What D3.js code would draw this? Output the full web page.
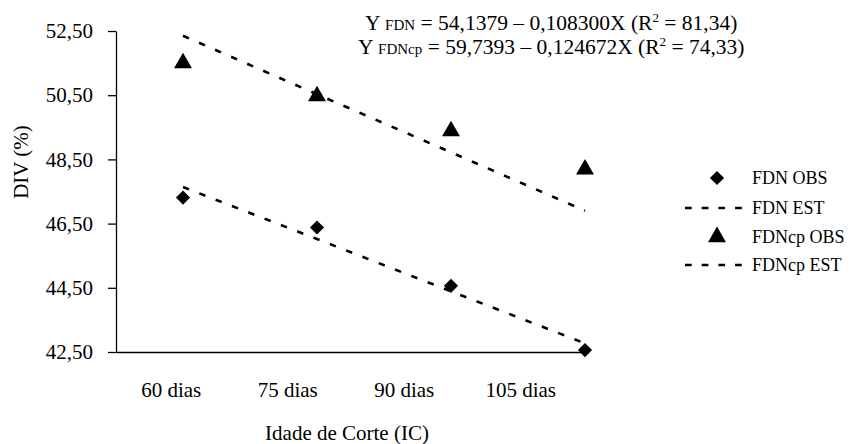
<!DOCTYPE html>
<html>
<head>
<meta charset="utf-8">
<script src="https://cdn.jsdelivr.net/npm/d3@7/dist/d3.min.js"></script>
<style>
  html, body { margin: 0; padding: 0; background: #fff; }
  svg { display: block; font-family: "Liberation Serif", "Times New Roman", serif; }
</style>
</head>
<body>
<svg id="chart" width="849" height="444"></svg>
<script>
// Cutting ages (days) and their axis labels
const days = [60, 75, 90, 105];
const dayLabels = ["60 dias", "75 dias", "90 dias", "105 dias"];

// Observed and estimated in vitro digestibility (%)
const fdnObs = [47.31, 46.38, 44.56, 42.56];
const fdnEst = [47.64, 46.02, 44.39, 42.77];
const fdncpObs = [51.50, 50.47, 49.38, 48.19];
const fdncpEst = [52.35, 50.53, 48.72, 46.90];

// Y axis ticks
const yTicks = [42.5, 44.5, 46.5, 48.5, 50.5, 52.5];

const serif = "'Liberation Serif', 'Times New Roman', serif";
const svg = d3.select("#chart");
const fmt = v => v.toFixed(2).replace(".", ",");

const axisLeft = 116, axisRight = 582, axisTop = 31, axisBottom = 352;

const y = d3.scaleLinear().domain([42.5, 52.5]).range([axisBottom, axisTop]);
const xBand = d3.scaleBand().domain(dayLabels).range([axisLeft, axisRight]);
const x = d3.scaleLinear().domain([60, 105]).range([183, 585]);

// Y axis
const yAxis = svg.append("g")
  .attr("transform", `translate(${axisLeft},0)`)
  .attr("font-family", serif)
  .call(d3.axisLeft(y).tickValues(yTicks).tickFormat(fmt).tickSize(8).tickSizeOuter(0));
yAxis.attr("font-family", serif);
yAxis.select(".domain").attr("stroke", "#000").attr("stroke-width", 1.3);
yAxis.selectAll(".tick line").attr("stroke", "#000").attr("stroke-width", 1.3);
yAxis.selectAll(".tick text")
  .attr("x", -23)
  .attr("font-size", 21)
  .attr("font-family", serif)
  .attr("fill", "#000");

// X axis (category labels only)
const xAxis = svg.append("g")
  .attr("transform", `translate(0,${axisBottom})`)
  .call(d3.axisBottom(xBand).tickSize(0).tickSizeOuter(0));
xAxis.attr("font-family", serif);
xAxis.select(".domain").attr("stroke", "#000").attr("stroke-width", 1.3);
xAxis.selectAll(".tick text")
  .attr("y", 30)
  .attr("dx", -3)
  .attr("font-size", 21)
  .attr("font-family", serif)
  .attr("fill", "#000");

// Axis titles
svg.append("text")
  .attr("transform", "translate(28,162) rotate(-90)")
  .attr("text-anchor", "middle")
  .attr("font-family", serif)
  .attr("font-size", 21)
  .text("DIV (%)");

svg.append("text")
  .attr("x", 347).attr("y", 440)
  .attr("text-anchor", "middle")
  .attr("font-family", serif)
  .attr("font-size", 21)
  .text("Idade de Corte (IC)");

// Estimated lines
const line = d3.line().x((d, i) => x(days[i])).y(d => y(d));
[fdnEst, fdncpEst].forEach(s => {
  svg.append("path")
    .attr("d", line(s))
    .attr("fill", "none")
    .attr("stroke", "#000")
    .attr("stroke-width", 2.6)
    .attr("stroke-dasharray", "6.5,11");
});

// Markers
const diamond = d3.symbol().type(d3.symbolSquare).size(100);
const triangle = d3.symbol().type(d3.symbolTriangle).size(140);

svg.append("g").selectAll("path")
  .data(fdnObs).join("path")
  .attr("d", diamond)
  .attr("transform", (d, i) => `translate(${x(days[i])},${y(d)}) rotate(45)`)
  .attr("fill", "#000");

svg.append("g").selectAll("path")
  .data(fdncpObs).join("path")
  .attr("d", triangle)
  .attr("transform", (d, i) => `translate(${x(days[i])},${y(d)})`)
  .attr("fill", "#000");

// Regression equations
function equation(xPos, yPos, sub, rest, r2) {
  const t = svg.append("text").attr("x", xPos).attr("y", yPos)
    .attr("font-family", serif).attr("font-size", 21.5);
  t.append("tspan").text("Y ");
  t.append("tspan").attr("font-size", 15).text(sub);
  t.append("tspan").text(" = " + rest + " (R");
  t.append("tspan").attr("font-size", 13).attr("dy", -8).text("2");
  t.append("tspan").attr("dy", 8).text(" = " + r2 + ")");
}
equation(365, 30, "FDN", "54,1379 \u2013 0,108300X", "81,34");
equation(358, 54, "FDNcp", "59,7393 \u2013 0,124672X", "74,33");

// Legend
const legend = svg.append("g").attr("font-size", 18).attr("font-family", serif);
const items = [
  { label: "FDN OBS", kind: "diamond", yPos: 178 },
  { label: "FDN EST", kind: "line", yPos: 208 },
  { label: "FDNcp OBS", kind: "triangle", yPos: 237 },
  { label: "FDNcp EST", kind: "line", yPos: 265 }
];
items.forEach(it => {
  if (it.kind === "diamond") {
    legend.append("path").attr("d", diamond)
      .attr("transform", `translate(717,${it.yPos}) rotate(45)`).attr("fill", "#000");
  } else if (it.kind === "triangle") {
    legend.append("path").attr("d", triangle)
      .attr("transform", `translate(717,${it.yPos})`).attr("fill", "#000");
  } else {
    legend.append("line")
      .attr("x1", 685).attr("x2", 742).attr("y1", it.yPos).attr("y2", it.yPos)
      .attr("stroke", "#000").attr("stroke-width", 2.6)
      .attr("stroke-dasharray", "6.7,10");
  }
  legend.append("text")
    .attr("x", 752).attr("y", it.yPos + 6)
    .text(it.label);
});
</script>
</body>
</html>
